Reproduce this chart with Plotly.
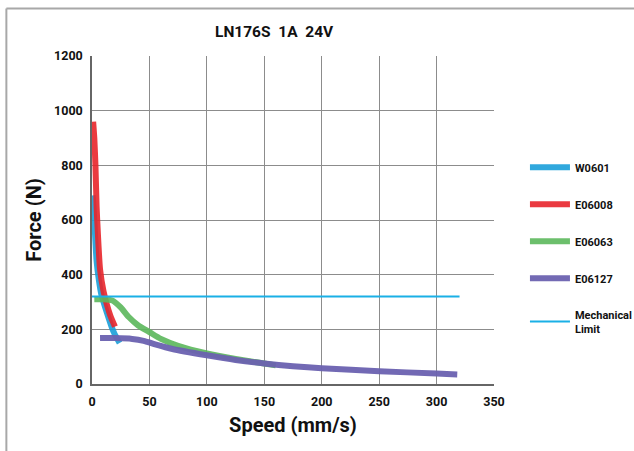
import plotly.graph_objects as go

w0601_x = [0.5, 1, 2, 3, 4, 6, 8, 10, 13, 17, 20, 24]
w0601_y = [690, 670, 600, 520, 450, 380, 330, 300, 260, 210, 180, 150]

e06008_x = [1, 2, 3, 4, 5, 7, 10, 13, 16, 20]
e06008_y = [960, 900, 800, 650, 560, 420, 340, 290, 250, 210]

e06063_x = [2, 10, 18, 25, 32, 40, 50, 60, 75, 100, 125, 150, 160]
e06063_y = [310, 310, 305, 280, 245, 215, 190, 165, 140, 112, 92, 75, 68]

e06127_x = [7, 20, 35, 45, 55, 70, 100, 125, 150, 175, 200, 250, 300, 318]
e06127_y = [168, 168, 165, 158, 145, 128, 105, 88, 75, 65, 58, 47, 38, 35]

limit_x = [0, 320]
limit_y = [320, 320]

x_ticks = [0, 50, 100, 150, 200, 250, 300, 350]
y_ticks = [0, 200, 400, 600, 800, 1000, 1200]

font = "Roboto"
fig = go.Figure()

series = [
    ("W0601", w0601_x, w0601_y, "#1a9fd9", 6, 0.9),
    ("E06008", e06008_x, e06008_y, "#e8252b", 6, 0.9),
    ("E06063", e06063_x, e06063_y, "#5cb85c", 6, 0.9),
    ("E06127", e06127_x, e06127_y, "#6b62b0", 6, 0.95),
    ("Mechanical<br>Limit", limit_x, limit_y, "#1ab0e6", 2, 1.0),
]
for i, (name, xs, ys, col, wd, op) in enumerate(series):
    fig.add_trace(go.Scatter(
        x=xs, y=ys, mode="lines", name=name,
        line=dict(color=col, width=wd, shape="spline", smoothing=0.6),
        opacity=op, legendgroup=str(i),
    ))

fig.update_layout(
    width=634, height=451,
    margin=dict(l=92, r=140, t=56, b=67, autoexpand=False),
    paper_bgcolor="white", plot_bgcolor="white",
    font=dict(family=font, color="#111111"),
    title=dict(text="<b>LN176S  1A  24V</b>", xref="paper", x=0.453, xanchor="center",
               yref="container", y=0.93, yanchor="middle", font=dict(size=15.5, family=font)),
    showlegend=True,
    legend=dict(x=1.077, y=0.705, xanchor="left", yanchor="top",
                font=dict(size=11, family=font, weight="bold"),
                tracegroupgap=18, itemwidth=40, bgcolor="rgba(0,0,0,0)"),
    xaxis=dict(range=[0, 350], tickvals=x_ticks, showgrid=True, gridcolor="#8c8c8c",
               gridwidth=1, showline=True, linecolor="#666666", linewidth=1.5, zeroline=False,
               tickfont=dict(size=12.5, family=font, weight="bold"),
               ticks="outside", ticklen=5, tickcolor="rgba(0,0,0,0)", automargin=False,
               title=dict(text="<b>Speed (mm/s)</b>", font=dict(size=20, family=font), standoff=10)),
    yaxis=dict(range=[0, 1200], tickvals=y_ticks, showgrid=True, gridcolor="#8c8c8c",
               gridwidth=1, showline=True, linecolor="#666666", linewidth=1.5, zeroline=False,
               tickfont=dict(size=12.5, family=font, weight="bold"),
               ticks="outside", ticklen=5, tickcolor="rgba(0,0,0,0)", automargin=False,
               title=dict(text="<b>Force (N)</b>", font=dict(size=20, family=font), standoff=7)),
    shapes=[
        dict(type="line", xref="paper", yref="paper", x0=-0.213, x1=1.5, y0=1.145, y1=1.145,
             line=dict(color="#a8a8a8", width=2)),
        dict(type="line", xref="paper", yref="paper", x0=-0.213, x1=-0.213, y0=1.145, y1=-0.3,
             line=dict(color="#a8a8a8", width=2)),
    ],
)

fig.write_html("out.html", config={"displayModeBar": False},
               post_script="document.body.style.margin='0';")
